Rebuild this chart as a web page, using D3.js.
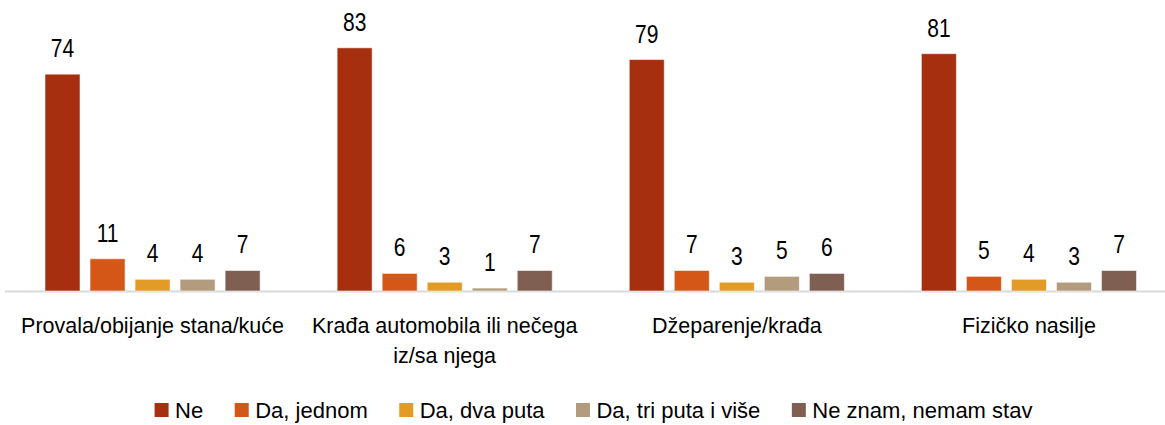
<!DOCTYPE html>
<html>
<head>
<meta charset="utf-8">
<script src="https://cdn.jsdelivr.net/npm/d3@7"></script>
<style>
  body { margin: 0; background: #fff; }
  text { font-family: "Liberation Sans", Arial, sans-serif; fill: #000; }
</style>
</head>
<body>
<svg width="1165" height="425"></svg>
<script>
const categories = [
  ["Provala/obijanje stana/kuće"],
  ["Krađa automobila ili nečega", "iz/sa njega"],
  ["Džeparenje/krađa"],
  ["Fizičko nasilje"],
];
const seriesNames = ["Ne", "Da, jednom", "Da, dva puta", "Da, tri puta i više", "Ne znam, nemam stav"];
const ne = [74, 83, 79, 81];
const daJednom = [11, 6, 7, 5];
const daDvaPuta = [4, 3, 3, 4];
const daTriPuta = [4, 1, 5, 3];
const neZnam = [7, 7, 6, 7];

const series = [ne, daJednom, daDvaPuta, daTriPuta, neZnam];
const colors = ["#a52f0f", "#d55718", "#e39b28", "#b39c7e", "#7f5f52"];

const svg = d3.select("svg");

const x0 = d3.scaleBand()
  .domain(d3.range(categories.length))
  .range([6.5, 1175]);

const x1 = d3.scaleBand()
  .domain(d3.range(seriesNames.length))
  .range([0, x0.bandwidth()])
  .paddingInner(10 / 45)
  .paddingOuter(0.855);

const y = d3.scaleLinear().domain([0, 100]).range([291, -2]);

const color = d3.scaleOrdinal().domain(seriesNames).range(colors);

// baseline
svg.append("line")
  .attr("x1", 5).attr("x2", 1165)
  .attr("y1", 291.5).attr("y2", 291.5)
  .attr("stroke", "#d9d9d9")
  .attr("stroke-width", 2);

const groups = svg.selectAll("g.group")
  .data(categories)
  .join("g")
  .attr("class", "group")
  .attr("transform", (d, i) => `translate(${x0(i)},0)`);

groups.each(function (cat, ci) {
  const g = d3.select(this);
  const vals = series.map((s, si) => ({ si, v: s[ci] }));

  g.selectAll("rect")
    .data(vals)
    .join("rect")
    .attr("x", (d) => x1(d.si))
    .attr("y", (d) => y(d.v))
    .attr("width", x1.bandwidth())
    .attr("height", (d) => y(0) - y(d.v))
    .attr("fill", (d) => color(seriesNames[d.si]))
    .attr("stroke", "rgba(255,255,255,0.55)")
    .attr("stroke-width", 1);

  g.selectAll("text.val")
    .data(vals)
    .join("text")
    .attr("class", "val")
    .attr("transform", (d) => `translate(${x1(d.si) + x1.bandwidth() / 2},${y(d.v) - 17}) scale(1,1.25)`)
    .attr("text-anchor", "middle")
    .style("font-size", "21px")
    .text((d) => d.v);

  g.append("text")
    .attr("text-anchor", "middle")
    .attr("x", x0.bandwidth() / 2)
    .attr("y", 333)
    .style("font-size", "21.5px")
    .selectAll("tspan")
    .data(cat)
    .join("tspan")
    .attr("x", x0.bandwidth() / 2)
    .attr("dy", (d, i) => (i === 0 ? 0 : 30))
    .text((d) => d);
});

// legend
const legend = svg.append("g");
let lx = 0;
const gap = 31.5;
seriesNames.forEach((name) => {
  const item = legend.append("g").attr("transform", `translate(${lx},0)`);
  item.append("rect")
    .attr("x", 0).attr("y", 403)
    .attr("width", 14).attr("height", 14)
    .attr("fill", color(name));
  const t = item.append("text")
    .attr("x", 20.5).attr("y", 418)
    .style("font-size", "22px")
    .text(name);
  lx += 20.5 + t.node().getComputedTextLength() + gap;
});
const lw = lx - gap;
legend.attr("transform", `translate(${593.5 - lw / 2},0)`);
</script>
</body>
</html>
